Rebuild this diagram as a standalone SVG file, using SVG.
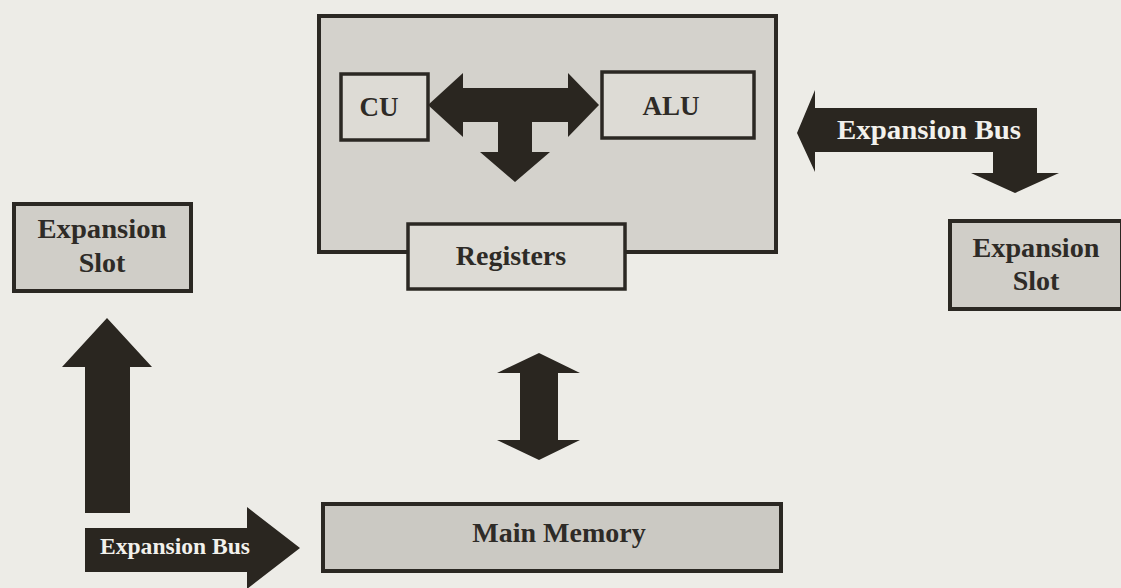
<svg xmlns="http://www.w3.org/2000/svg" width="1121" height="588" viewBox="0 0 1121 588">
  <style>
    .box { stroke: #2b2823; stroke-width: 4; }
    .inner { fill: #dddbd5; stroke: #2b2823; stroke-width: 3.5; }
    .arrow { fill: #2a2620; }
    .label { font-family: "Liberation Serif", "Times New Roman", serif; font-weight: bold; fill: #2e2b27; text-anchor: middle; }
    .bus { font-family: "Liberation Serif", "Times New Roman", serif; font-weight: bold; fill: #f2f1ec; text-anchor: middle; }
  </style>
  <rect width="1121" height="588" fill="#edece7"/>

  <!-- CPU: control unit, ALU and registers -->
  <g id="cpu">
    <rect class="box" x="319" y="16" width="457" height="236" fill="#d4d2cc"/>
  </g>
  <g id="cu">
    <rect class="inner" x="341" y="74" width="87" height="66"/>
    <text class="label" x="379" y="116" font-size="27">CU</text>
  </g>
  <g id="alu">
    <rect class="inner" x="602" y="72" width="152" height="66"/>
    <text class="label" x="671" y="115" font-size="27">ALU</text>
  </g>
  <g id="registers">
    <rect class="inner" x="408" y="224" width="217" height="65"/>
    <text class="label" x="511" y="265" font-size="28">Registers</text>
  </g>

  <!-- Expansion slots and memory -->
  <g id="slot-left">
    <rect class="box" x="14" y="204" width="177" height="87" fill="#d0cec8"/>
    <text class="label" x="102" y="238" font-size="28" textLength="129" lengthAdjust="spacingAndGlyphs">Expansion</text>
    <text class="label" x="102" y="272" font-size="28">Slot</text>
  </g>
  <g id="slot-right">
    <rect class="box" x="950" y="221" width="172" height="88" fill="#d0cec8"/>
    <text class="label" x="1036" y="257" font-size="28" textLength="127" lengthAdjust="spacingAndGlyphs">Expansion</text>
    <text class="label" x="1036" y="290" font-size="28">Slot</text>
  </g>
  <g id="main-memory">
    <rect class="box" x="323" y="504" width="458" height="67" fill="#cbc9c3"/>
    <text class="label" x="559" y="542" font-size="28">Main Memory</text>
  </g>

  <!-- Block arrows -->
  <g id="connectors">
    <path class="arrow" d="M428,105 L463,73 L463,88 L568,88 L568,73 L599,105 L568,137 L568,122 L532,122 L532,152 L550,152 L515,182 L480,152 L498,152 L498,122 L463,122 L463,137 Z"/>
    <path class="arrow" d="M797,133 L815,90 L815,108 L1037,108 L1037,173 L1059,173 L1015,193 L971,173 L993,173 L993,152 L815,152 L815,172 Z"/>
    <text class="bus" x="929" y="139" font-size="28" textLength="184" lengthAdjust="spacingAndGlyphs">Expansion Bus</text>
    <path class="arrow" d="M539,353 L580,373 L558,373 L558,440 L580,440 L539,460 L497,440 L520,440 L520,373 L497,373 Z"/>
    <path class="arrow" d="M107,318 L152,367 L130,367 L130,513 L85,513 L85,367 L62,367 Z"/>
    <path class="arrow" d="M85,528 L247,528 L247,507 L300,548 L247,589 L247,572 L85,572 Z"/>
    <text class="bus" x="175" y="554" font-size="23" textLength="150" lengthAdjust="spacingAndGlyphs">Expansion Bus</text>
  </g>
</svg>
